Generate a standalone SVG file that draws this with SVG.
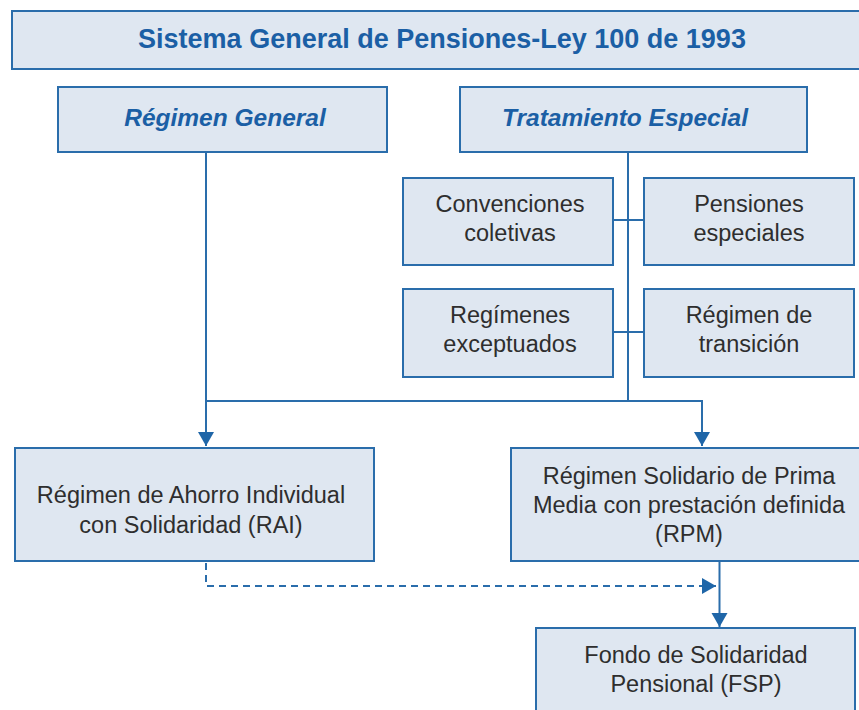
<svg xmlns="http://www.w3.org/2000/svg" width="859" height="710" viewBox="0 0 859 710">
<defs>
<style>
.box{fill:#dfe7f1;stroke:#2a6dab;stroke-width:2}
.t{font-family:"Liberation Sans",Arial,sans-serif;font-size:23.5px;fill:#2e2e2e;text-anchor:middle}
.h{font-family:"Liberation Sans",Arial,sans-serif;font-weight:bold;fill:#1b5fa5;text-anchor:middle}
.ln{fill:none;stroke:#2a6dab;stroke-width:2}
.dash{fill:none;stroke:#2a6dab;stroke-width:2;stroke-dasharray:7 5}
</style>
<marker id="arr" viewBox="0 0 14 18" refX="14" refY="9" markerWidth="14" markerHeight="18" markerUnits="userSpaceOnUse" orient="auto">
<path d="M0,1 L14,9 L0,17 Z" fill="#1f66a8"/>
</marker>
</defs>
<rect width="859" height="710" fill="#fff"/>
<g id="connectors">
<path class="ln" d="M206,152 V446" marker-end="url(#arr)"/>
<path class="ln" d="M628,152 V401"/>
<path class="ln" d="M206,401 H702 V446" marker-end="url(#arr)"/>
<path class="ln" d="M613,220 H644"/>
<path class="ln" d="M613,332 H644"/>
<path class="ln" d="M719.5,561 V627" marker-end="url(#arr)"/>
<path class="dash" d="M206,563 V586 H716" marker-end="url(#arr)"/>
</g>
<g id="title">
<rect class="box" x="12" y="11" width="852" height="58"/>
<text class="h" x="442" y="48" font-size="27">Sistema General de Pensiones-Ley 100 de 1993</text>
</g>
<g id="regimen-general">
<rect class="box" x="58" y="87" width="329" height="65"/>
<text class="h" x="225" y="126" font-size="24.5" font-style="italic">Régimen General</text>
</g>
<g id="tratamiento-especial">
<rect class="box" x="460" y="87" width="347" height="65"/>
<text class="h" x="625" y="126" font-size="24.5" font-style="italic">Tratamiento Especial</text>
</g>
<g id="convenciones">
<rect class="box" x="403" y="178" width="210" height="87"/>
<text class="t" x="510" y="212">Convenciones</text>
<text class="t" x="510" y="241">coletivas</text>
</g>
<g id="pensiones">
<rect class="box" x="644" y="178" width="210" height="87"/>
<text class="t" x="749" y="212">Pensiones</text>
<text class="t" x="749" y="241">especiales</text>
</g>
<g id="regimenes">
<rect class="box" x="403" y="289" width="210" height="88"/>
<text class="t" x="510" y="323">Regímenes</text>
<text class="t" x="510" y="352">exceptuados</text>
</g>
<g id="transicion">
<rect class="box" x="644" y="289" width="210" height="88"/>
<text class="t" x="749" y="323">Régimen de</text>
<text class="t" x="749" y="352">transición</text>
</g>
<g id="rai">
<rect class="box" x="15" y="448" width="359" height="113"/>
<text class="t" x="191" y="503">Régimen de Ahorro Individual</text>
<text class="t" x="191" y="533">con Solidaridad (RAI)</text>
</g>
<g id="rpm">
<rect class="box" x="511" y="448" width="356" height="113"/>
<text class="t" x="689" y="484">Régimen Solidario de Prima</text>
<text class="t" x="689" y="513">Media con prestación definida</text>
<text class="t" x="689" y="542">(RPM)</text>
</g>
<g id="fsp">
<rect class="box" x="536" y="628" width="319" height="100"/>
<text class="t" x="696" y="663">Fondo de Solidaridad</text>
<text class="t" x="696" y="692">Pensional (FSP)</text>
</g>
</svg>
